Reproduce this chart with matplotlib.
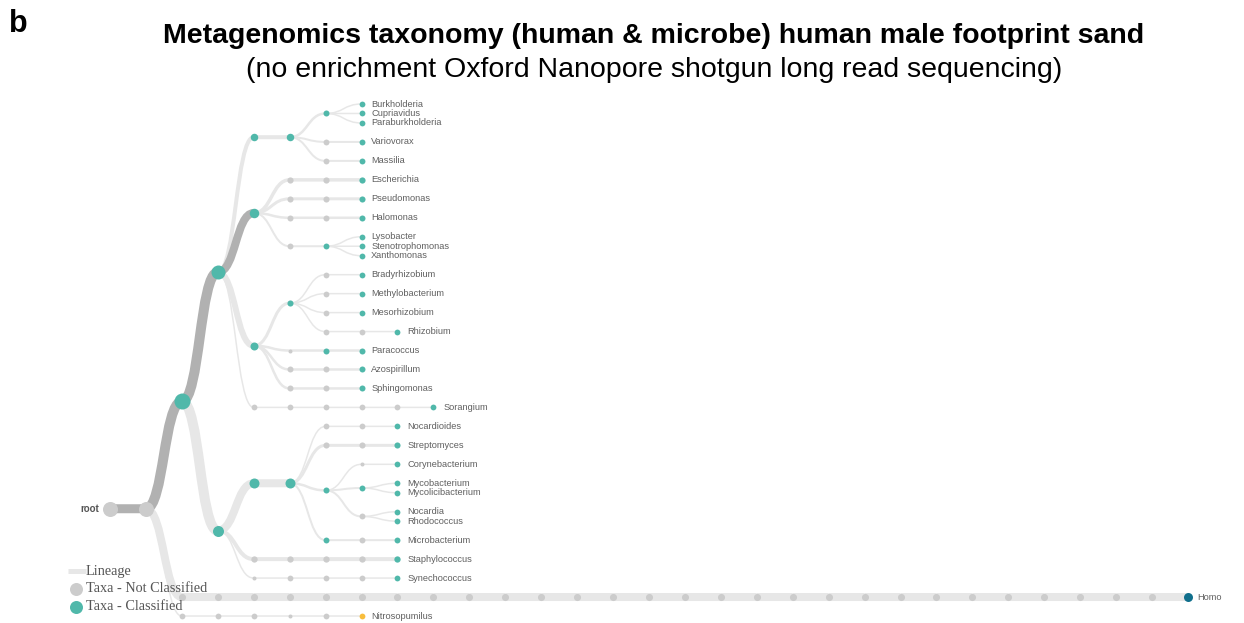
import matplotlib

matplotlib.use("Agg")

import matplotlib.pyplot as plt
from matplotlib.patches import PathPatch
from matplotlib.path import Path

plt.rcParams["font.family"] = ["Liberation Sans", "DejaVu Sans"]

# ---- data -------------------------------------------------------------
CELL = "root;cellular organisms"
BACT = CELL + ";Bacteria"
PROTEO = BACT + ";Proteobacteria"
BETA = PROTEO + ";Betaproteobacteria;Burkholderiales"
GAMMA = PROTEO + ";Gammaproteobacteria"
ALPHA = PROTEO + ";Alphaproteobacteria"
TERRA = BACT + ";Terrabacteria group"
ACTINO = TERRA + ";Actinobacteria;Actinomycetia"
CORYNE = ACTINO + ";Corynebacteriales"

# genus lineages, listed top to bottom as drawn
LINEAGES = [
    BETA + ";Burkholderiaceae;Burkholderia",
    BETA + ";Burkholderiaceae;Cupriavidus",
    BETA + ";Burkholderiaceae;Paraburkholderia",
    BETA + ";Comamonadaceae;Variovorax",
    BETA + ";Oxalobacteraceae;Massilia",
    GAMMA + ";Enterobacterales;Enterobacteriaceae;Escherichia",
    GAMMA + ";Pseudomonadales;Pseudomonadaceae;Pseudomonas",
    GAMMA + ";Oceanospirillales;Halomonadaceae;Halomonas",
    GAMMA + ";Xanthomonadales;Xanthomonadaceae;Lysobacter",
    GAMMA + ";Xanthomonadales;Xanthomonadaceae;Stenotrophomonas",
    GAMMA + ";Xanthomonadales;Xanthomonadaceae;Xanthomonas",
    ALPHA + ";Rhizobiales;Bradyrhizobiaceae;Bradyrhizobium",
    ALPHA + ";Rhizobiales;Methylobacteriaceae;Methylobacterium",
    ALPHA + ";Rhizobiales;Phyllobacteriaceae;Mesorhizobium",
    ALPHA + ";Rhizobiales;Rhizobiaceae;Rhizobium/Agrobacterium group;Rhizobium",
    ALPHA + ";Rhodobacterales;Rhodobacteraceae;Paracoccus",
    ALPHA + ";Rhodospirillales;Azospirillaceae;Azospirillum",
    ALPHA + ";Sphingomonadales;Sphingomonadaceae;Sphingomonas",
    PROTEO + ";delta/epsilon subdivisions;Deltaproteobacteria;Myxococcales;"
    "Sorangiineae;Polyangiaceae;Sorangium",
    ACTINO + ";Propionibacteriales;Nocardioidaceae;Nocardioides",
    ACTINO + ";Streptomycetales;Streptomycetaceae;Streptomyces",
    CORYNE + ";Corynebacteriaceae;Corynebacterium",
    CORYNE + ";Mycobacteriaceae;Mycobacterium",
    CORYNE + ";Mycobacteriaceae;Mycolicibacterium",
    CORYNE + ";Nocardiaceae;Nocardia",
    CORYNE + ";Nocardiaceae;Rhodococcus",
    ACTINO + ";Micrococcales;Microbacteriaceae;Microbacterium",
    TERRA + ";Firmicutes;Bacilli;Bacillales;Staphylococcaceae;Staphylococcus",
    TERRA + ";Cyanobacteria/Melainabacteria group;Cyanobacteria;Synechococcales;"
    "Synechococcaceae;Synechococcus",
    CELL + ";Eukaryota;Opisthokonta;Metazoa;Eumetazoa;Bilateria;Deuterostomia;"
    "Chordata;Craniata;Vertebrata;Gnathostomata;Teleostomi;Euteleostomi;"
    "Sarcopterygii;Dipnotetrapodomorpha;Tetrapoda;Amniota;Mammalia;Theria;"
    "Eutheria;Boreoeutheria;Euarchontoglires;Primates;Haplorrhini;Simiiformes;"
    "Catarrhini;Hominoidea;Hominidae;Homininae;Homo",
    CELL + ";Archaea;TACK group;Thaumarchaeota;Nitrosopumilales;"
    "Nitrosopumilaceae;Nitrosopumilus",
]

# internal taxa that were classified (all genera are classified)
CLASSIFIED = [
    "Bacteria", "Proteobacteria", "Betaproteobacteria", "Burkholderiales",
    "Burkholderiaceae", "Gammaproteobacteria", "Xanthomonadaceae",
    "Alphaproteobacteria", "Rhizobiales", "Rhodobacteraceae",
    "Terrabacteria group", "Actinobacteria", "Actinomycetia",
    "Corynebacteriales", "Mycobacteriaceae", "Micrococcales",
]
ACCENT = {"Homo": "#106f8c", "Nitrosopumilus": "#f8bd3c"}

# lineage width (px) of shared branches; unlisted nodes take their genus width
BRANCH_WIDTH = {
    "cellular organisms": 9, "Bacteria": 10, "Proteobacteria": 10,
    "Gammaproteobacteria": 8, "Betaproteobacteria": 4, "Burkholderiales": 4,
    "Burkholderiaceae": 2.5, "Xanthomonadales": 2, "Xanthomonadaceae": 2,
    "Alphaproteobacteria": 6, "Rhizobiales": 3, "Terrabacteria group": 10,
    "Actinobacteria": 8, "Actinomycetia": 8, "Corynebacteriales": 2.5,
    "Mycobacteriaceae": 2, "Nocardiaceae": 2,
}
GENUS_WIDTH = {
    "Variovorax": 2, "Massilia": 2, "Escherichia": 3.5, "Pseudomonas": 3,
    "Halomonas": 2.5, "Paracoccus": 2.5, "Azospirillum": 2.5,
    "Sphingomonas": 2.5, "Streptomyces": 3, "Microbacterium": 2,
    "Staphylococcus": 4, "Homo": 8,
}
HIGHLIGHT = ["cellular organisms", "Bacteria", "Proteobacteria", "Gammaproteobacteria"]

NODE_SIZE = {
    "root": 15, "cellular organisms": 15, "Bacteria": 16, "Proteobacteria": 14,
    "Terrabacteria group": 11, "Actinobacteria": 10, "Actinomycetia": 10,
    "Gammaproteobacteria": 9.5, "Alphaproteobacteria": 8,
    "Betaproteobacteria": 7.5, "Burkholderiales": 7.5, "Homo": 9,
}
SMALL = ["Rhodobacterales", "Corynebacteriaceae", "Cyanobacteria/Melainabacteria group",
         "Nitrosopumilales"]

TEAL = "#50b8aa"
GREY = "#cccccc"
LIGHT = "#e7e7e7"
DARK = "#b1b1b1"

# ---- tree layout ------------------------------------------------------
parent, children, genus_of = {}, {}, {}
for lin in LINEAGES:
    names = lin.split(";")
    for p, c in zip(names[:-1], names[1:]):
        if c not in parent:
            parent[c] = p
            children.setdefault(p, []).append(c)
        genus_of.setdefault(c, names[-1])

depth = {"root": 0}
ypos = {}
state = {"prev": None, "y": None}


def place(node):
    kids = children.get(node, [])
    for k in kids:
        depth[k] = depth[node] + 1
        place(k)
    if kids:
        ypos[node] = (ypos[kids[0]] + ypos[kids[-1]]) / 2
        return
    if state["y"] is None:
        state["y"] = 0
    else:
        state["y"] += 1 if parent[node] == state["prev"] else 2
    state["prev"] = parent[node]
    ypos[node] = state["y"]


place("root")


def width(node):
    if node in BRANCH_WIDTH:
        return BRANCH_WIDTH[node]
    return GENUS_WIDTH.get(genus_of[node], 1.5)


PX = 0.72  # points per pixel at dpi 100

fig = plt.figure(figsize=(12.44, 6.23), dpi=100, facecolor="white")
ax = fig.add_axes([0, 0, 1, 1])
ax.set_xlim(-3.061, 31.558)
ax.set_ylim(54.738, -10.969)
ax.axis("off")

for node, p in parent.items():
    x0, y0, x1, y1 = depth[p], ypos[p], depth[node], ypos[node]
    xm = (x0 + x1) / 2
    path = Path([(x0, y0), (xm, y0), (xm, y1), (x1, y1)],
                [Path.MOVETO, Path.CURVE4, Path.CURVE4, Path.CURVE4])
    hl = node in HIGHLIGHT
    ax.add_patch(PathPatch(path, fill=False, edgecolor=DARK if hl else LIGHT,
                           linewidth=width(node) * PX, capstyle="butt",
                           zorder=2 if hl else 1))

for node in ypos:
    leaf = node not in children
    if node in ACCENT:
        color = ACCENT[node]
    elif leaf or node in CLASSIFIED:
        color = TEAL
    else:
        color = GREY
    if node in NODE_SIZE:
        d = NODE_SIZE[node]
    elif node in SMALL:
        d = 4
    else:
        d = 5.5 + 0.2 * width(node)
    ax.scatter(depth[node], ypos[node], s=(d * PX) ** 2, color=color,
               linewidths=0, zorder=3)
    if leaf:
        ax.annotate(node, (depth[node], ypos[node]), xytext=(7, 0),
                    textcoords="offset points", ha="left", va="center",
                    fontsize=6.7, color="#606060", zorder=4)

ax.annotate("root", (depth["root"], ypos["root"]), xytext=(-7.5, 0),
            textcoords="offset points", ha="right", va="center",
            fontsize=7, fontweight="bold", color="#555555")

# legend
serif = ["Liberation Serif", "DejaVu Serif"]
H, W = 623.0, 1244.0
fig.add_artist(plt.Line2D([68 / W, 86 / W], [1 - 571 / H] * 2, color=LIGHT,
                          linewidth=5 * PX, solid_capstyle="butt"))
fig.add_artist(plt.Line2D([76 / W], [1 - 589 / H], marker="o", markersize=13 * PX,
                          color=GREY, markeredgewidth=0))
fig.add_artist(plt.Line2D([76 / W], [1 - 607 / H], marker="o", markersize=13 * PX,
                          color=TEAL, markeredgewidth=0))
for y, txt in [(571, "Lineage"), (589, "Taxa - Not Classified"), (607, "Taxa - Classified")]:
    fig.text(86 / W, 1 - y / H, txt, family=serif, fontsize=10.3, color="#555555",
             ha="left", va="center")

# titles
fig.text(9 / W, 1 - 24 / H, "b", fontsize=22, fontweight="bold", ha="left", va="center")
fig.text(654 / W, 1 - 36 / H,
         "Metagenomics taxonomy (human & microbe) human male footprint sand",
         fontsize=20.5, fontweight="bold", ha="center", va="center")
fig.text(654 / W, 1 - 70 / H,
         "(no enrichment Oxford Nanopore shotgun long read sequencing)",
         fontsize=20.5, ha="center", va="center")

fig.savefig("out.png", dpi=100)
